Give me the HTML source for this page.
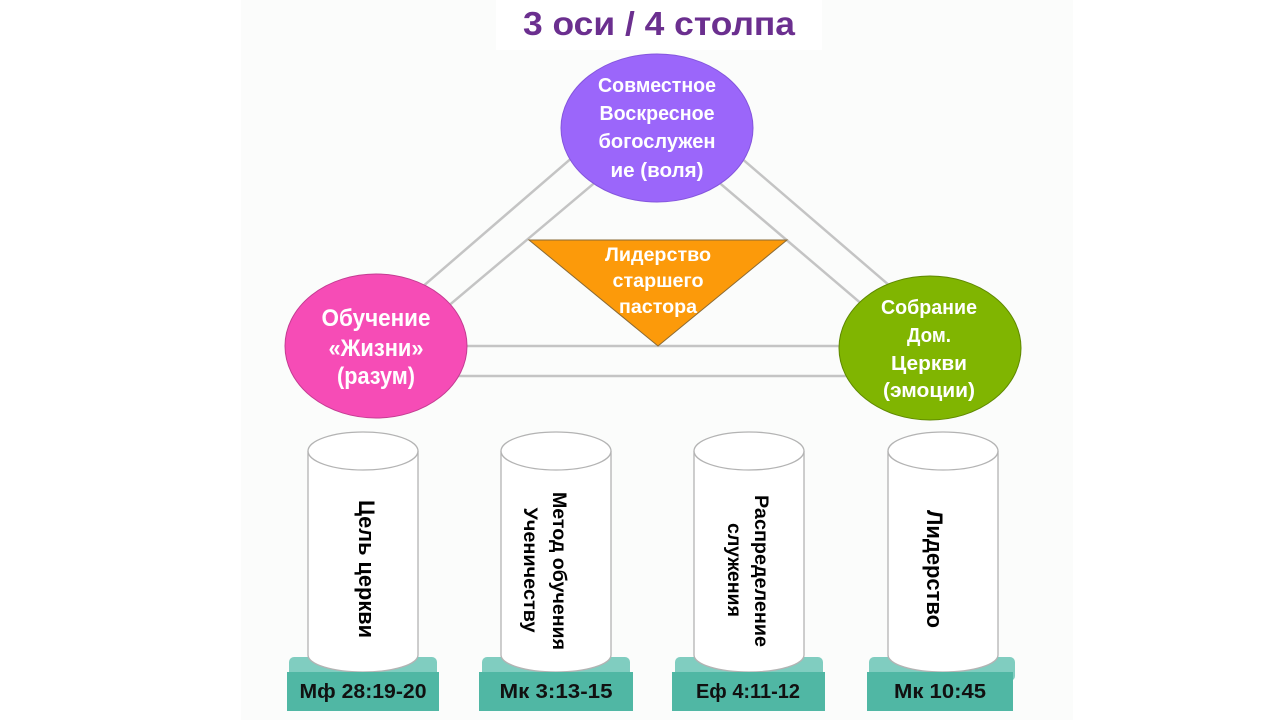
<!DOCTYPE html>
<html><head><meta charset="utf-8">
<style>
html,body{margin:0;padding:0;background:#fff;}
svg{display:block;}
text{font-family:"Liberation Sans","DejaVu Sans",sans-serif;font-weight:bold;}
</style></head>
<body>
<svg width="1280" height="720" viewBox="0 0 1280 720" xmlns="http://www.w3.org/2000/svg">
  <rect x="0" y="0" width="1280" height="720" fill="#ffffff"/>
  <rect x="241" y="0" width="832" height="720" fill="#fbfcfb"/>
  <!-- title box -->
  <rect x="496" y="0" width="326" height="50" fill="#ffffff"/>
  <text x="659" y="35" font-size="33" fill="#6b2f8f" text-anchor="middle" textLength="272" lengthAdjust="spacingAndGlyphs">3 оси / 4 столпа</text>

  <!-- connector lines -->
  <g stroke="#c4c4c4" stroke-width="2.5" fill="none">
    <line x1="416.6" y1="291.8" x2="578.4" y2="152.2"/>
    <line x1="441.5" y1="311.7" x2="603.5" y2="175.3"/>
    <line x1="735.6" y1="153.2" x2="894.4" y2="289.8"/>
    <line x1="710.6" y1="175.3" x2="868.4" y2="309.7"/>
    <line x1="455" y1="346" x2="850" y2="346"/>
    <line x1="455" y1="376" x2="850" y2="376"/>
  </g>

  <!-- orange triangle -->
  <polygon points="529,240 787,240 658,346" fill="#fc9a0a" stroke="#8a6a35" stroke-width="1"/>
  <g fill="#ffffff" text-anchor="middle" font-size="19">
    <text x="658" y="261" textLength="106" lengthAdjust="spacingAndGlyphs">Лидерство</text>
    <text x="658" y="287" textLength="91" lengthAdjust="spacingAndGlyphs">старшего</text>
    <text x="658" y="313" textLength="78" lengthAdjust="spacingAndGlyphs">пастора</text>
  </g>

  <!-- top ellipse -->
  <ellipse cx="657" cy="128" rx="96" ry="74" fill="#9b66fa" stroke="#8455dd" stroke-width="1"/>
  <g fill="#ffffff" text-anchor="middle" font-size="20">
    <text x="657" y="92" textLength="118" lengthAdjust="spacingAndGlyphs">Совместное</text>
    <text x="657" y="120" textLength="115" lengthAdjust="spacingAndGlyphs">Воскресное</text>
    <text x="657" y="148" textLength="117" lengthAdjust="spacingAndGlyphs">богослужен</text>
    <text x="657" y="177" textLength="93" lengthAdjust="spacingAndGlyphs">ие (воля)</text>
  </g>

  <!-- left ellipse -->
  <ellipse cx="376" cy="346" rx="91" ry="72" fill="#f64cb6" stroke="#c43c92" stroke-width="1"/>
  <g fill="#ffffff" text-anchor="middle" font-size="24">
    <text x="376" y="326" textLength="109" lengthAdjust="spacingAndGlyphs">Обучение</text>
    <text x="376" y="356" textLength="95" lengthAdjust="spacingAndGlyphs">«Жизни»</text>
    <text x="376" y="384" textLength="78" lengthAdjust="spacingAndGlyphs">(разум)</text>
  </g>

  <!-- right ellipse -->
  <ellipse cx="930" cy="348" rx="91" ry="72" fill="#80b501" stroke="#5e8800" stroke-width="1"/>
  <g fill="#ffffff" text-anchor="middle" font-size="20">
    <text x="929" y="314" textLength="96" lengthAdjust="spacingAndGlyphs">Собрание</text>
    <text x="929" y="342" textLength="44" lengthAdjust="spacingAndGlyphs">Дом.</text>
    <text x="929" y="370" textLength="76" lengthAdjust="spacingAndGlyphs">Церкви</text>
    <text x="929" y="397" textLength="92" lengthAdjust="spacingAndGlyphs">(эмоции)</text>
  </g>

  <!-- pillars -->
  <!-- back plates -->
  <g fill="#80cdc0">
    <rect x="289" y="657" width="148" height="24" rx="5"/>
    <rect x="482" y="657" width="148" height="24" rx="5"/>
    <rect x="675" y="657" width="148" height="24" rx="5"/>
    <rect x="869" y="657" width="146" height="24" rx="5"/>
  </g>
  <!-- cylinders -->
  <g fill="#ffffff" stroke="#b3b3b3" stroke-width="1.3">
    <path d="M308,451 L308,655 A55,17 0 0 0 418,655 L418,451"/>
    <ellipse cx="363" cy="451" rx="55" ry="19"/>
    <path d="M501,451 L501,655 A55,17 0 0 0 611,655 L611,451"/>
    <ellipse cx="556" cy="451" rx="55" ry="19"/>
    <path d="M694,451 L694,655 A55,17 0 0 0 804,655 L804,451"/>
    <ellipse cx="749" cy="451" rx="55" ry="19"/>
    <path d="M888,451 L888,655 A55,17 0 0 0 998,655 L998,451"/>
    <ellipse cx="943" cy="451" rx="55" ry="19"/>
  </g>
  <!-- front plates -->
  <g fill="#50b7a4">
    <rect x="287" y="672" width="152" height="39"/>
    <rect x="479" y="672" width="154" height="39"/>
    <rect x="672" y="672" width="153" height="39"/>
    <rect x="867" y="672" width="146" height="39"/>
  </g>
  <g fill="#111111" text-anchor="middle" font-size="20">
    <text x="363" y="698" textLength="127" lengthAdjust="spacingAndGlyphs">Мф 28:19-20</text>
    <text x="556" y="698" textLength="113" lengthAdjust="spacingAndGlyphs">Мк 3:13-15</text>
    <text x="748" y="698" textLength="104" lengthAdjust="spacingAndGlyphs">Еф 4:11-12</text>
    <text x="940" y="698" textLength="92" lengthAdjust="spacingAndGlyphs">Мк 10:45</text>
  </g>

  <!-- vertical pillar labels -->
  <g fill="#000000" text-anchor="middle">
    <text transform="translate(367,569) rotate(90)" y="8" font-size="22" textLength="138" lengthAdjust="spacingAndGlyphs">Цель церкви</text>
    <text transform="translate(560,571) rotate(90)" y="7" font-size="19" textLength="158" lengthAdjust="spacingAndGlyphs">Метод обучения</text>
    <text transform="translate(531,570) rotate(90)" y="7" font-size="19" textLength="125" lengthAdjust="spacingAndGlyphs">Ученичеству</text>
    <text transform="translate(762,571) rotate(90)" y="7" font-size="19" textLength="152" lengthAdjust="spacingAndGlyphs">Распределение</text>
    <text transform="translate(735,570) rotate(90)" y="7" font-size="19" textLength="94" lengthAdjust="spacingAndGlyphs">служения</text>
    <text transform="translate(935,569) rotate(90)" y="8" font-size="22" textLength="118" lengthAdjust="spacingAndGlyphs">Лидерство</text>
  </g>
</svg>
</body></html>
